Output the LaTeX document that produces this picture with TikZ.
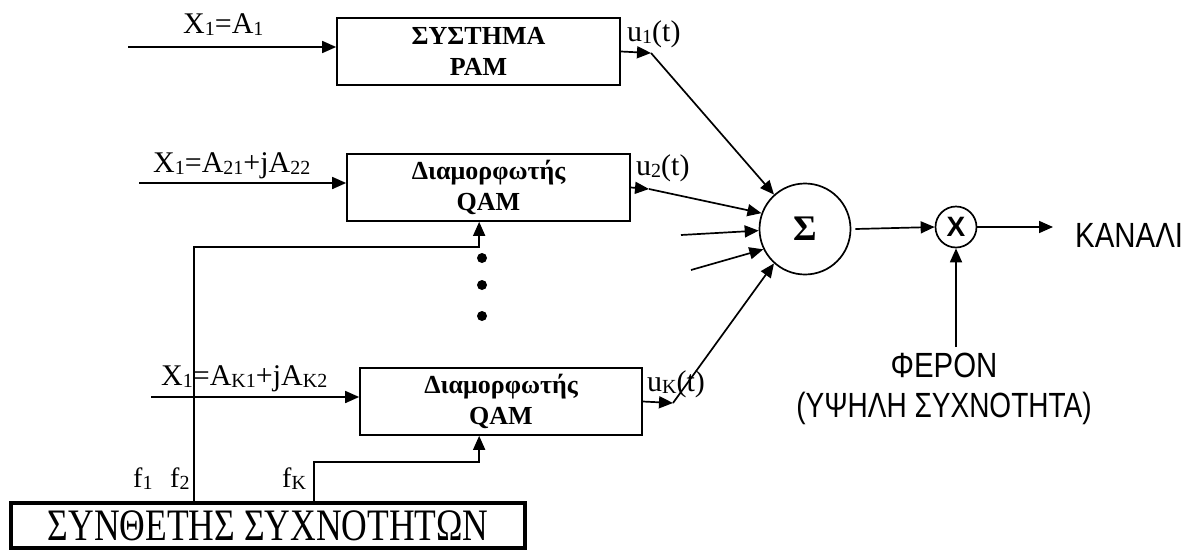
\documentclass[tikz,border=0pt]{standalone}
\usepackage{fontspec}
\setmainfont{Liberation Serif}
\setsansfont{Liberation Sans}
\usetikzlibrary{arrows.meta,calc}
\newcommand\lblfont{\fontsize{30}{30}\selectfont}
\newcommand\lowsub[1]{\raisebox{-2.5pt}{\fontsize{20}{20}\selectfont #1}}
\newcommand\sansbig{\sffamily\fontsize{35}{40}\selectfont}
\begin{document}
\begin{tikzpicture}[x=1pt,y=-1pt,
  ln/.style={line width=1.7pt},
  arr/.style={ln,-{Triangle[length=14pt,width=12pt]}},
  blk/.style={draw,line width=1.7pt,minimum height=67pt,inner sep=0pt,align=center,font=\bfseries\fontsize{26}{31}\selectfont},
  lbl/.style={inner sep=0pt,anchor=base west,font=\lblfont}]
\useasboundingbox (0,0) rectangle (1193,552);

% blocks
\node[blk,minimum width=283pt] (pam) at (478.5,51.5) {ΣΥΣΤΗΜΑ\\PAM};
\node[blk,minimum width=283pt] (qam2) at (488.5,187.5) {Διαμορφωτής\\QAM};
\node[blk,minimum width=282pt] (qamK) at (501,401.5) {Διαμορφωτής\\QAM};
\node[draw,circle,line width=1.7pt,minimum size=91pt,inner sep=0pt,font=\bfseries\fontsize{36}{36}\selectfont] (sum) at (805,229) {Σ};
\node[draw,circle,line width=1.7pt,minimum size=41pt,inner sep=0pt,font=\sffamily\bfseries\fontsize{28}{28}\selectfont] (mult) at (956,227) {X};
\node[draw,line width=4.5pt,minimum width=514pt,minimum height=45pt,inner sep=0pt] (synth) at (268,525.5) {\scalebox{0.79}[1]{\fontsize{45}{45}\selectfont ΣΥΝΘΕΤΗΣ ΣΥΧΝΟΤΗΤΩΝ}};

% labels
\node[lbl] (x1) at (183,33) {X\lowsub{1}=A\lowsub{1}};
\node[lbl] (x2) at (153,172) {X\lowsub{1}=A\lowsub{21}+jA\lowsub{22}};
\node[lbl] (xK) at (161,385) {X\lowsub{1}=A\lowsub{K1}+jA\lowsub{K2}};
\node[lbl] (lu1) at (627,41) {u\lowsub{1}(t)};
\node[lbl] (lu2) at (636,175) {u\lowsub{2}(t)};
\node[lbl] (luK) at (647,391) {u\lowsub{K}(t)};
\node[lbl,font=\fontsize{28}{28}\selectfont] (f1) at (133,487) {f\lowsub{1}};
\node[lbl,font=\fontsize{28}{28}\selectfont] (f2) at (170,487) {f\lowsub{2}};
\node[lbl,font=\fontsize{28}{28}\selectfont] (fK) at (282,487) {f\lowsub{K}};
\node[lbl,font=\sansbig] (chan) at (1075,247) {\scalebox{0.84}[1]{ΚΑΝΑΛΙ}};
\node[inner sep=0pt,align=center,font=\sansbig] (feron) at (944,389) {\scalebox{0.84}[1]{ΦΕΡΟΝ}\\\scalebox{0.8}[1]{(ΥΨΗΛΗ ΣΥΧΝΟΤΗΤΑ)}};

% free ends
\coordinate (in1) at (128,47);
\coordinate (in2) at (139,183);
\coordinate (inK) at (151,397);
\coordinate (u1tip) at (651,53);
\coordinate (u2tip) at (649,189);
\coordinate (uKtip) at (673,403);
\coordinate (s3) at (681,235);
\coordinate (s4) at (691,270);
\coordinate (chanin) at (1053,227);
\coordinate (carrier) at (956,347);

% connectors
\draw[arr] (in1) -- (in1 -| pam.west);
\draw[arr] (in2) -- (in2 -| qam2.west);
\draw[arr] (inK) -- (inK -| qamK.west);
\draw[arr] (pam.east) -- (u1tip);
\draw[arr] (qam2.east) -- (u2tip);
\draw[arr] (qamK.east) -- (uKtip);
\draw[arr] (u1tip) -- (sum.132);
\draw[arr] (u2tip) -- (sum.160);
\draw[arr] (s3) -- (sum.182);
\draw[arr] (s4) -- (sum.206);
\draw[arr] (uKtip) -- (sum.228);
\draw[arr] ([xshift=4pt]sum.east) -- (mult.west);
\draw[arr] (mult.east) -- (chanin);
\draw[arr] (carrier) -- (mult.south);
\draw[arr] ([xshift=-74pt]synth.north) |- ([xshift=133pt,yshift=-25pt]qam2.south west) -- ([xshift=133pt]qam2.south west);
\draw[arr] ([xshift=46pt]synth.north) |- ([xshift=120pt,yshift=-26pt]qamK.south west) -- ([xshift=120pt]qamK.south west);

% dots
\foreach \yy in {258,285,316} \fill (482,\yy) circle (5pt);
\end{tikzpicture}
\end{document}
